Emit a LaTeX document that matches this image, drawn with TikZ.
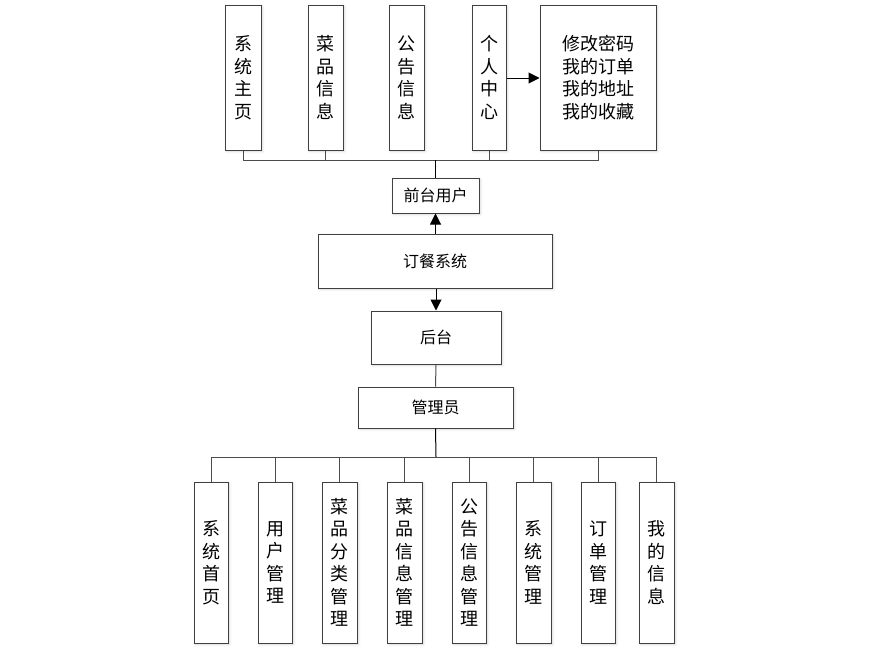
\documentclass[tikz,border=0pt]{standalone}
\usepackage{fontspec}
\setmainfont{Noto Sans CJK SC}
\usetikzlibrary{arrows.meta,shadows.blur}
\tikzset{
  box/.style={draw=black!75, line width=1pt, fill=white, inner sep=0pt, align=center,
    blur shadow={shadow xshift=1.5pt, shadow yshift=-1.5pt, shadow opacity=18, shadow blur steps=4}},
  vtext/.style={font=\fontsize{18}{22.5}\selectfont},
  mtext/.style={font=\fontsize{16}{18}\selectfont},
  conn/.style={draw=black!70, line width=1pt},
  arr/.style={conn, -{Triangle[length=11pt,width=11pt]}}
}
\begin{document}
\begin{tikzpicture}[x=1pt,y=-1pt]
\useasboundingbox (0,0) rectangle (880,653);
% top row
\node[box,vtext,minimum width=36,minimum height=145] (t1) at (243,77.5) {系\\统\\主\\页};
\node[box,vtext,minimum width=35,minimum height=145] (t2) at (325.5,77.5) {菜\\品\\信\\息};
\node[box,vtext,minimum width=35,minimum height=145] (t3) at (406.5,77.5) {公\\告\\信\\息};
\node[box,vtext,minimum width=34,minimum height=145] (t4) at (489,77.5) {个\\人\\中\\心};
\node[box,vtext,minimum width=116,minimum height=145] (t5) at (598,77.5) {修改密码\\我的订单\\我的地址\\我的收藏};
\coordinate (tbus) at (436,160);
\node[box,mtext,minimum width=87,minimum height=35] (fq) at (435.5,195.5) {前台用户};
% middle
\node[box,mtext,minimum width=234,minimum height=54] (sys) at (435,261) {订餐系统};
\node[box,mtext,minimum width=130,minimum height=53] (ht) at (436,337.5) {后台};
\node[box,mtext,minimum width=155,minimum height=41] (gly) at (435.5,407.5) {管理员};
\coordinate (bbus) at (436,457);
% bottom row
\node[box,vtext,minimum width=34,minimum height=161] (b1) at (211,562.5) {系\\统\\首\\页};
\node[box,vtext,minimum width=34,minimum height=161] (b2) at (275,562.5) {用\\户\\管\\理};
\node[box,vtext,minimum width=35,minimum height=161] (b3) at (339.5,562.5) {菜\\品\\分\\类\\管\\理};
\node[box,vtext,minimum width=35,minimum height=161] (b4) at (404.5,562.5) {菜\\品\\信\\息\\管\\理};
\node[box,vtext,minimum width=34,minimum height=161] (b5) at (469,562.5) {公\\告\\信\\息\\管\\理};
\node[box,vtext,minimum width=35,minimum height=161] (b6) at (533.5,562.5) {系\\统\\管\\理};
\node[box,vtext,minimum width=34,minimum height=161] (b7) at (598,562.5) {订\\单\\管\\理};
\node[box,vtext,minimum width=35,minimum height=161] (b8) at (656.5,562.5) {我\\的\\信\\息};
% top connectors
\draw[conn] (t1.south) |- (t5.south |- tbus) -- (t5.south);
\draw[conn] (t2.south) -- (t2.south |- tbus);
\draw[conn] (t4.south) -- (t4.south |- tbus);
\draw[conn,draw=black] (fq.north) -- (fq.north |- tbus);
\draw[arr,draw=black] (t4.east |- 0,78) -- (t5.west |- 0,78);
% middle connectors
\draw[arr,draw=black] (sys.north -| fq.south) -- (fq.south);
\draw[arr,draw=black] (sys.south -| ht.north) -- (ht.north);
\draw[conn] (ht.south) -- (gly.north);
% bottom connectors
\draw[conn,draw=black] (gly.south) -- (bbus);
\draw[conn] (b1.north) |- (b8.north |- bbus) -- (b8.north);
\foreach \b in {b2,b3,b4,b5,b6,b7}{
  \draw[conn] (\b.north) -- (\b.north |- bbus);
}
\end{tikzpicture}
\end{document}
